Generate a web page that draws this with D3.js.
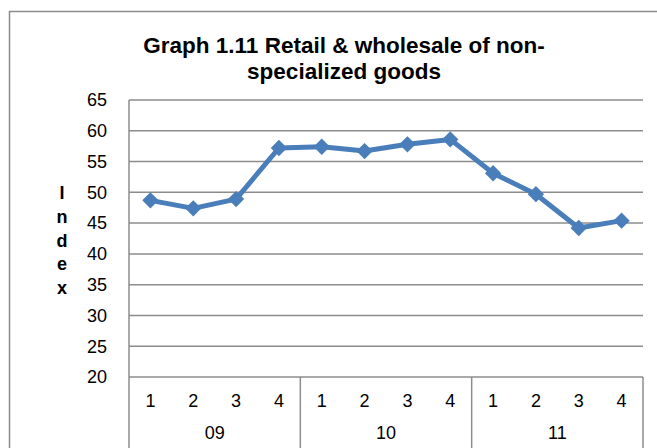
<!DOCTYPE html>
<html>
<head>
<meta charset="utf-8">
<script src="https://cdn.jsdelivr.net/npm/d3@7"></script>
<style>
  body { margin: 0; background: #fff; }
  svg { display: block; font-family: "Liberation Sans", Arial, sans-serif; }
</style>
</head>
<body>
<div id="chart"></div>
<script>
const years = ['09', '10', '11'];
const quarters = ['1', '2', '3', '4'];
const values = [48.7, 47.4, 48.9, 57.2, 57.4, 56.7, 57.8, 58.6, 53.1, 49.7, 44.2, 45.4];
const yTicks = [20, 25, 30, 35, 40, 45, 50, 55, 60, 65];
const titleLines = ['Graph 1.11 Retail & wholesale of non-', 'specialized goods'];
const yLabel = 'Index';

const width = 657;
const height = 448;
const plot = { left: 129, right: 643, top: 100, bottom: 377 };
const blue = '#4a7ebb';
const gray = '#8c8c8c';

// one row per quarter, year + quarter
const points = [];
years.forEach((yr, i) => {
  quarters.forEach((q, j) => {
    points.push({ key: yr + '-' + q, year: yr, q, v: values[i * 4 + j] });
  });
});

const svg = d3.select('#chart').append('svg')
  .attr('width', width)
  .attr('height', height);

// outer chart frame
svg.append('rect')
  .attr('x', 9.5).attr('y', 11.5)
  .attr('width', 700).attr('height', 500)
  .attr('fill', 'none')
  .attr('stroke', gray)
  .attr('stroke-width', 1.5);

const x = d3.scaleBand().domain(points.map(d => d.key)).range([plot.left, plot.right]);
const xYear = d3.scaleBand().domain(years).range([plot.left, plot.right]);
const y = d3.scaleLinear().domain([20, 65]).range([plot.bottom, plot.top]);

// gridlines
svg.append('g')
  .selectAll('line')
  .data(yTicks)
  .join('line')
  .attr('x1', plot.left).attr('x2', plot.right)
  .attr('y1', d => y(d)).attr('y2', d => y(d))
  .attr('stroke', gray)
  .attr('stroke-width', 1.5);

// y tick labels
svg.append('g')
  .selectAll('text')
  .data(yTicks)
  .join('text')
  .attr('x', 107)
  .attr('y', d => y(d))
  .attr('dy', '0.35em')
  .attr('text-anchor', 'end')
  .attr('font-size', 18)
  .attr('fill', '#000')
  .text(d => d);

// left axis line, runs down through the category rows
svg.append('line')
  .attr('x1', plot.left).attr('x2', plot.left)
  .attr('y1', plot.top).attr('y2', height)
  .attr('stroke', gray)
  .attr('stroke-width', 1.5);

// year group separators below the axis
svg.append('g')
  .selectAll('line')
  .data(years)
  .join('line')
  .attr('x1', d => xYear(d) + xYear.bandwidth())
  .attr('x2', d => xYear(d) + xYear.bandwidth())
  .attr('y1', plot.bottom).attr('y2', height)
  .attr('stroke', gray)
  .attr('stroke-width', 1.5);

// quarter labels
svg.append('g')
  .selectAll('text')
  .data(points)
  .join('text')
  .attr('x', d => x(d.key) + x.bandwidth() / 2)
  .attr('y', 401)
  .attr('dy', '0.35em')
  .attr('text-anchor', 'middle')
  .attr('font-size', 18)
  .text(d => d.q);

// year labels
svg.append('g')
  .selectAll('text')
  .data(years)
  .join('text')
  .attr('x', d => xYear(d) + xYear.bandwidth() / 2)
  .attr('y', 433)
  .attr('dy', '0.35em')
  .attr('text-anchor', 'middle')
  .attr('font-size', 18)
  .text(d => d);

// series line
const line = d3.line()
  .x(d => x(d.key) + x.bandwidth() / 2)
  .y(d => y(d.v));

svg.append('path')
  .datum(points)
  .attr('d', line)
  .attr('fill', 'none')
  .attr('stroke', blue)
  .attr('stroke-width', 5)
  .attr('stroke-linejoin', 'round');

// diamond markers
const diamond = d3.symbol().type(d3.symbolDiamond2).size(170);
svg.append('g')
  .selectAll('path')
  .data(points)
  .join('path')
  .attr('transform', d => `translate(${x(d.key) + x.bandwidth() / 2},${y(d.v)})`)
  .attr('d', diamond)
  .attr('fill', blue);

// title
svg.append('g')
  .selectAll('text')
  .data(titleLines)
  .join('text')
  .attr('x', 344)
  .attr('y', (d, i) => 53 + i * 26)
  .attr('text-anchor', 'middle')
  .attr('font-size', 22.5)
  .attr('font-weight', 'bold')
  .text(d => d);

// y axis title, stacked letters
svg.append('g')
  .selectAll('text')
  .data(yLabel.split(''))
  .join('text')
  .attr('x', 62)
  .attr('y', (d, i) => 193 + i * 23.7)
  .attr('dy', '0.35em')
  .attr('text-anchor', 'middle')
  .attr('font-size', 18)
  .attr('font-weight', 'bold')
  .text(d => d);
</script>
</body>
</html>
